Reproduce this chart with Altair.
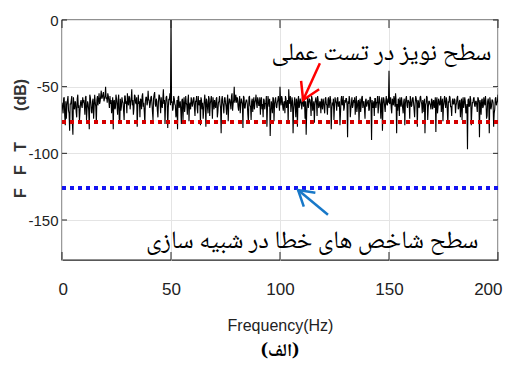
import altair as alt
import pandas as pd

# ---------------- data ----------------
# spectrum samples on the 0.5 Hz grid (0, 0.5, ..., 200 Hz)
freq_step = 0.5
fft_db = [
    -62, -70, -58, -79, -74, -60, -68, -83, -63, -57, -86, -65, -61, -69, -59, -66, -76, -62, -64, -58,
    -60, -71, -57, -67, -63, -82, -58, -69, -61, -74, -56, -65, -60, -64, -55, -61, -53, -58, -54, -59,
    -50, -58, -55, -61, -57, -60, -64, -82, -60, -66, -59, -71, -56, -78, -68, -58, -62, -75, -57, -61,
    -55, -64, -58, -62, -52, -60, -66, -57, -63, -80, -56, -61, -59, -67, -55, -62, -78, -58, -64, -53,
    -60, -63, -57, -69, -59, -54, -65, -61, -73, -56, -62, -58, -66, -52, -60, -64, -57, -81, -59, -55,
    0, -61, -66, -59, -64, -70, -82, -57, -63, -68, -60, -75, -58, -65, -62, -71, -56, -64, -67, -60,
    -63, -58, -72, -61, -66, -57, -64, -79, -60, -62, -68, -56, -80, -61, -70, -59, -63, -57, -74, -62,
    -60, -66, -58, -69, -61, -63, -85, -57, -65, -59, -62, -71, -56, -64, -60, -67, -55, -63, -50, -58,
    -62, -59, -68, -57, -64, -61, -81, -58, -66, -60, -63, -77, -57, -65, -61, -69, -58, -62, -56, -66,
    -60, -64, -71, -58, -63, -59, -67, -62, -80, -57, -65, -87, -61, -70, -59, -63, -58, -66, -60, -62,
    -50, -64, -59, -68, -61, -57, -66, -60, -52, -63, -69, -58, -85, -62, -65, -59, -80, -57, -64, -61,
    -67, -60, -58, -74, -86, -62, -66, -59, -63, -57, -68, -61, -64, -58, -72, -60, -65, -62, -59, -67,
    -61, -70, -58, -64, -60, -66, -57, -82, -62, -59, -65, -61, -68, -58, -63, -79, -60, -64, -57, -66,
    -62, -59, -88, -63, -60, -67, -58, -64, -61, -71, -57, -65, -60, -62, -69, -58, -66, -61, -74, -59,
    -63, -60, -67, -58, -90, -64, -61, -59, -66, -62, -70, -57, -64, -60, -83, -58, -65, -61, -63, -59,
    -38, -62, -66, -59, -64, -60, -55, -85, -68, -61, -58, -65, -62, -70, -59, -63, -57, -66, -61, -74,
    -60, -64, -58, -67, -62, -59, -80, -61, -65, -57, -63, -60, -69, -85, -62, -58, -66, -61, -64, -59,
    -67, -60, -63, -84, -58, -65, -61, -62, -69, -59, -64, -57, -66, -60, -78, -62, -58, -65, -61, -63,
    -59, -70, -62, -57, -66, -60, -64, -75, -58, -63, -61, -67, -97, -59, -64, -60, -68, -62, -58, -65,
    -61, -69, -59, -88, -63, -60, -66, -58, -64, -62, -72, -59, -85, -61, -65, -60, -80, -67, -58, -62,
    -56,
]
# spectrum samples between those (0.25, 0.75, ..., 199.75 Hz)
fft_db_mid = [
    -66, -59, -72, -61, -64, -57, -70, -63, -60, -77, -58, -67, -62, -73, -56, -64, -69, -60, -66, -61,
    -64, -58, -75, -61, -68, -56, -63, -70, -59, -65, -62, -78, -57, -60, -63, -57, -59, -56, -61, -57,
    -59, -62, -57, -66, -63, -70, -58, -61, -67, -56, -64, -60, -74, -59, -65, -61, -68, -57, -63, -70,
    -61, -57, -67, -59, -64, -71, -56, -62, -58, -66, -63, -73, -60, -57, -65, -69, -61, -58, -62, -60,
    -66, -58, -62, -75, -56, -63, -59, -68, -61, -57, -70, -64, -59, -63, -78, -58, -62, -66, -60, -64,
    -62, -68, -57, -63, -73, -60, -58, -66, -61, -78, -59, -63, -69, -57, -64, -60, -76, -62, -58, -65,
    -59, -66, -61, -57, -70, -63, -60, -58, -67, -74, -61, -63, -59, -66, -57, -72, -60, -64, -58, -67,
    -64, -59, -73, -62, -57, -66, -60, -62, -70, -58, -65, -61, -76, -59, -63, -57, -68, -60, -62, -56,
    -58, -65, -61, -70, -59, -63, -57, -66, -62, -60, -71, -58, -64, -75, -59, -62, -67, -60, -63, -58,
    -64, -58, -61, -67, -73, -60, -63, -57, -66, -61, -59, -70, -64, -58, -76, -60, -65, -62, -57, -68,
    -61, -57, -65, -62, -70, -59, -63, -78, -60, -57, -64, -61, -67, -58, -73, -62, -60, -66, -59, -63,
    -58, -65, -62, -61, -69, -57, -63, -60, -72, -59, -64, -77, -60, -62, -57, -66, -61, -70, -63, -59,
    -66, -59, -63, -71, -58, -62, -60, -67, -64, -75, -58, -62, -59, -65, -61, -70, -57, -63, -68, -60,
    -59, -64, -61, -57, -73, -62, -66, -60, -58, -63, -69, -61, -78, -59, -64, -57, -62, -67, -60, -65,
    -61, -68, -58, -63, -60, -66, -72, -59, -62, -57, -65, -61, -74, -58, -63, -60, -69, -57, -64, -62,
    -63, -58, -70, -61, -57, -65, -60, -63, -59, -72, -62, -58, -66, -61, -79, -59, -64, -60, -62, -57,
    -65, -59, -62, -73, -57, -63, -60, -66, -58, -61, -70, -62, -59, -64, -57, -75, -61, -63, -67, -60,
    -62, -66, -58, -61, -70, -59, -64, -57, -62, -76, -60, -63, -58, -68, -61, -57, -65, -72, -59, -63,
    -60, -64, -58, -67, -61, -73, -59, -62, -66, -58, -70, -63, -60, -65, -57, -79, -62, -59, -64, -61,
    -64, -58, -62, -60, -71, -59, -65, -62, -57, -74, -61, -63, -58, -67, -60, -62, -70, -59, -64, -61,
]
freq_hz = [i * freq_step for i in range(len(fft_db))]
freq_hz_mid = [i * freq_step + freq_step / 2 for i in range(len(fft_db_mid))]

level_names = ["noise_test", "sim_error"]
level_db = [-76.5, -126]
level_colors = ["#d40000", "#1515f0"]

x_ticks = [0, 50, 100, 150, 200]
y_ticks = [0, -50, -100, -150]

ann_text = ["سطح نویز در تست عملی", "سطح شاخص های خطا در شبیه سازی"]
ann_x = [197, 191]
ann_y = [-24, -165]

arrow_x_tail = [118.3, 122]
arrow_y_tail = [-32.5, -146]
arrow_x_tip = [110.6, 108.3]
arrow_y_tip = [-60, -127.5]
arrow_colors = ["#ff0000", "#1878c8"]
arrow_angles = [205, 310]
arrow_head_sizes = [1100, 900]

caption = "(الف)"

LAB = "Liberation Sans, Arial, sans-serif"
ARABIC = "Noto Naskh Arabic, Noto Sans Arabic, DejaVu Sans, sans-serif"

W, H = 436, 240

# ---------------- frames ----------------
noise_df = pd.DataFrame({"f": freq_hz + freq_hz_mid, "db": fft_db + fft_db_mid}).sort_values("f")
level_df = pd.DataFrame({"name": level_names, "db": level_db, "c": level_colors,
                         "x0": [0, 0], "x1": [200, 200]})
xt_df = pd.DataFrame({"f": x_ticks})
yt_df = pd.DataFrame({"db": y_ticks})
ann_df = pd.DataFrame({"t": ann_text, "f": ann_x, "db": ann_y})
arr_df = pd.DataFrame({"x1": arrow_x_tail, "y1": arrow_y_tail, "x2": arrow_x_tip,
                       "y2": arrow_y_tip, "c": arrow_colors, "a": arrow_angles,
                       "s": arrow_head_sizes})

xscale = alt.Scale(domain=[0, 200], nice=False, zero=False)
yscale = alt.Scale(domain=[-180, 0], nice=False, zero=False)

xaxis = alt.Axis(values=x_ticks, grid=True, gridColor="#e4e4e4", ticks=False, domain=False,
                 labelFont=LAB, labelFontSize=17, labelPadding=21, labelColor="#222222",
                 labelFlush=True, labelFlushOffset=4, labelOverlap=False,
                 title="Frequency(Hz)", titleFont=LAB, titleFontSize=16,
                 titleFontWeight="normal", titleColor="#222222", titleY=65,
                 titleBaseline="middle", titleX=W / 2)
yaxis = alt.Axis(values=y_ticks, grid=True, gridColor="#e4e4e4", ticks=False, domain=False,
                 labelFont=LAB, labelFontSize=15, labelPadding=4, labelColor="#222222",
                 labelFlush=False, labelOverlap=False,
                 labelExpr="datum.value < 0 ? '-' + abs(datum.value) : '' + datum.value",
                 title="F\u00a0\u00a0\u00a0F\u00a0\u00a0\u00a0T\u00a0\u00a0\u00a0\u00a0\u00a0\u00a0\u00a0(dB)",
                 titleFont=LAB, titleFontSize=16,
                 titleFontWeight="bold", titleColor="#333333", titleX=-42, titleY=H / 2 - 2,
                 titleAngle=270, titleAlign="center", titleBaseline="middle")

line = alt.Chart(noise_df).mark_line(color="black", strokeWidth=1.1, clip=True).encode(
    x=alt.X("f:Q", scale=xscale, axis=xaxis),
    y=alt.Y("db:Q", scale=yscale, axis=yaxis),
)

levels = alt.Chart(level_df).mark_rule(strokeWidth=4, strokeDash=[4, 4]).encode(
    x="x0:Q", x2="x1:Q", y="db:Q", color=alt.Color("c:N", scale=None),
)

tick_b = alt.Chart(xt_df).mark_rule(color="#222222", strokeWidth=1).encode(
    x="f:Q", y=alt.value(H), y2=alt.value(H - 8))
tick_t = alt.Chart(xt_df).mark_rule(color="#222222", strokeWidth=1).encode(
    x="f:Q", y=alt.value(0), y2=alt.value(8))
tick_l = alt.Chart(yt_df).mark_rule(color="#222222", strokeWidth=1).encode(
    y="db:Q", x=alt.value(0), x2=alt.value(5))
tick_r = alt.Chart(yt_df).mark_rule(color="#222222", strokeWidth=1).encode(
    y="db:Q", x=alt.value(W - 5), x2=alt.value(W))

ann = alt.Chart(ann_df).mark_text(font=ARABIC, fontSize=25, align="right",
                                  baseline="middle", color="black").encode(
    x="f:Q", y="db:Q", text="t:N")

shafts = alt.Chart(arr_df).mark_rule(strokeWidth=2.5).encode(
    x="x1:Q", y="y1:Q", x2="x2:Q", y2="y2:Q", color=alt.Color("c:N", scale=None))
heads = alt.Chart(arr_df).mark_point(shape="M -0.6 1 L 0 0 L 0.6 1", filled=False,
                                     strokeWidth=2.5, opacity=1).encode(
    x="x2:Q", y="y2:Q", angle=alt.Angle("a:Q", scale=None),
    size=alt.Size("s:Q", scale=None), color=alt.Color("c:N", scale=None))

cap = alt.Chart(pd.DataFrame({"t": [caption]})).mark_text(
    font=ARABIC, fontSize=18, fontWeight="bold", align="center", baseline="middle",
    color="black").encode(x=alt.value(W / 2), y=alt.value(331), text="t:N")

chart = alt.layer(line, levels, tick_b, tick_t, tick_l, tick_r, ann, shafts, heads, cap).properties(
    width=W, height=H,
    autosize=alt.AutoSizeParams(type="none"),
    padding={"left": 54, "top": 12, "right": 7, "bottom": 106},
).configure_view(stroke="#222222", strokeWidth=1.3)

chart.save("out.html", embed_options={"renderer": "svg", "actions": False})
